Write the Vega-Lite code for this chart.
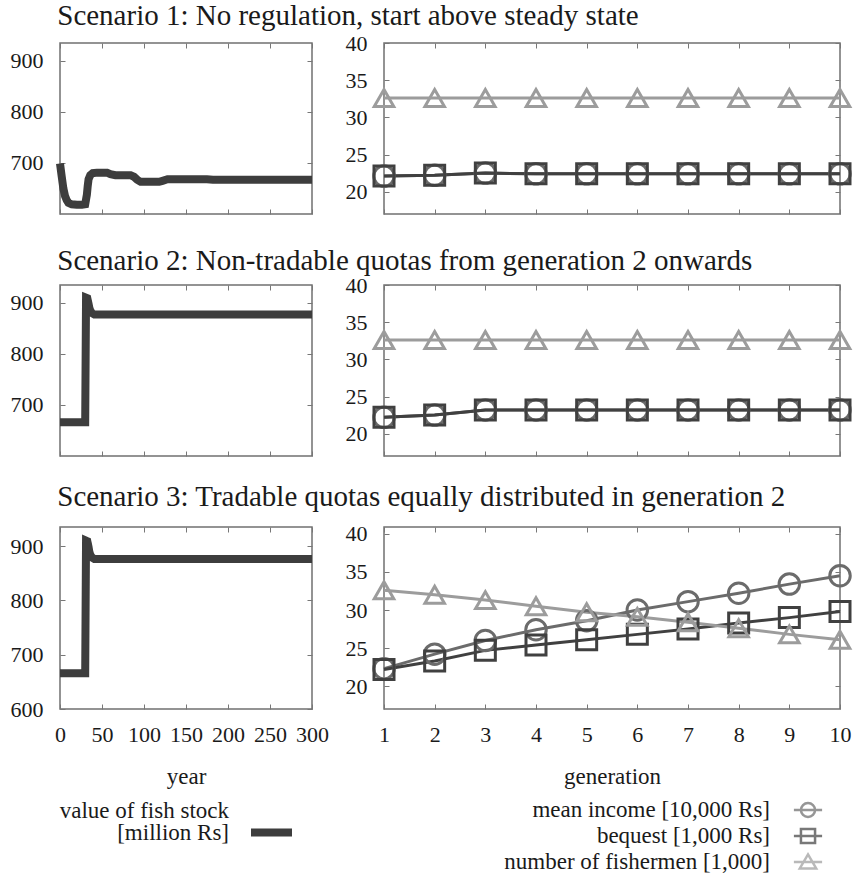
{
  "$schema": "https://vega.github.io/schema/vega-lite/v6.json",
  "padding": {"left": 9, "top": 2, "right": 0, "bottom": 0},
  "config": {
    "font": "Liberation Serif",
    "view": {"stroke": "#707070", "strokeWidth": 1.5},
    "axis": {
      "domain": false, "grid": false,
      "tickSize": -5, "tickColor": "#777777", "tickWidth": 1,
      "labelFont": "Liberation Serif", "labelFontSize": 22, "labelColor": "#1a1a1a",
      "labelFlush": false, "labelOverlap": false,
      "titleFont": "Liberation Serif", "titleFontSize": 23, "titleFontWeight": "normal", "titleColor": "#1a1a1a"
    },
    "axisX": {"labelPadding": 20},
    "axisY": {"labelPadding": 22},
    "legend": {"labelFont": "Liberation Serif", "labelFontSize": 23, "labelColor": "#1a1a1a", "labelLimit": 0, "padding": 0},
    "title": {"font": "Liberation Serif", "fontSize": 29, "fontWeight": "normal", "color": "#1a1a1a", "anchor": "start"}
  },
  "datasets": {
    "stock": [
      {"s":1,"year":0,"value":699},{"s":1,"year":2,"value":674},{"s":1,"year":4,"value":650},{"s":1,"year":6,"value":635},
      {"s":1,"year":8,"value":627},{"s":1,"year":10,"value":622},{"s":1,"year":14,"value":619},{"s":1,"year":20,"value":618},
      {"s":1,"year":26,"value":618},{"s":1,"year":30,"value":619},{"s":1,"year":32,"value":638},{"s":1,"year":33,"value":655},
      {"s":1,"year":34,"value":668},{"s":1,"year":36,"value":676},{"s":1,"year":39,"value":680},{"s":1,"year":44,"value":681},
      {"s":1,"year":56,"value":681},{"s":1,"year":60,"value":678},{"s":1,"year":66,"value":676},{"s":1,"year":84,"value":676},
      {"s":1,"year":88,"value":673},{"s":1,"year":92,"value":667},{"s":1,"year":96,"value":663},{"s":1,"year":118,"value":663},
      {"s":1,"year":122,"value":665},{"s":1,"year":128,"value":668},{"s":1,"year":175,"value":668},{"s":1,"year":182,"value":667},
      {"s":1,"year":300,"value":667},
      {"s":2,"year":0,"value":666},{"s":2,"year":30,"value":666},{"s":2,"year":31,"value":910},{"s":2,"year":32.5,"value":909},
      {"s":2,"year":34,"value":898},{"s":2,"year":35,"value":890},{"s":2,"year":36,"value":885},{"s":2,"year":38,"value":880},
      {"s":2,"year":41,"value":877},{"s":2,"year":50,"value":877},{"s":2,"year":300,"value":877},
      {"s":3,"year":0,"value":666},{"s":3,"year":30,"value":666},{"s":3,"year":31,"value":910},{"s":3,"year":32.5,"value":909},
      {"s":3,"year":34,"value":898},{"s":3,"year":35,"value":889},{"s":3,"year":36,"value":884},{"s":3,"year":38,"value":879},
      {"s":3,"year":41,"value":876},{"s":3,"year":50,"value":876},{"s":3,"year":300,"value":876}
    ],
    "gen": [
      {"s":1,"generation":1,"series":"mean income [10,000 Rs]","value":22.1},{"s":1,"generation":2,"series":"mean income [10,000 Rs]","value":22.2},
      {"s":1,"generation":3,"series":"mean income [10,000 Rs]","value":22.5},{"s":1,"generation":4,"series":"mean income [10,000 Rs]","value":22.4},
      {"s":1,"generation":5,"series":"mean income [10,000 Rs]","value":22.4},{"s":1,"generation":6,"series":"mean income [10,000 Rs]","value":22.4},
      {"s":1,"generation":7,"series":"mean income [10,000 Rs]","value":22.4},{"s":1,"generation":8,"series":"mean income [10,000 Rs]","value":22.4},
      {"s":1,"generation":9,"series":"mean income [10,000 Rs]","value":22.4},{"s":1,"generation":10,"series":"mean income [10,000 Rs]","value":22.4},
      {"s":1,"generation":1,"series":"bequest [1,000 Rs]","value":22.1},{"s":1,"generation":2,"series":"bequest [1,000 Rs]","value":22.2},
      {"s":1,"generation":3,"series":"bequest [1,000 Rs]","value":22.5},{"s":1,"generation":4,"series":"bequest [1,000 Rs]","value":22.4},
      {"s":1,"generation":5,"series":"bequest [1,000 Rs]","value":22.4},{"s":1,"generation":6,"series":"bequest [1,000 Rs]","value":22.4},
      {"s":1,"generation":7,"series":"bequest [1,000 Rs]","value":22.4},{"s":1,"generation":8,"series":"bequest [1,000 Rs]","value":22.4},
      {"s":1,"generation":9,"series":"bequest [1,000 Rs]","value":22.4},{"s":1,"generation":10,"series":"bequest [1,000 Rs]","value":22.4},
      {"s":1,"generation":1,"series":"number of fishermen [1,000]","value":32.6},{"s":1,"generation":2,"series":"number of fishermen [1,000]","value":32.6},
      {"s":1,"generation":3,"series":"number of fishermen [1,000]","value":32.6},{"s":1,"generation":4,"series":"number of fishermen [1,000]","value":32.6},
      {"s":1,"generation":5,"series":"number of fishermen [1,000]","value":32.6},{"s":1,"generation":6,"series":"number of fishermen [1,000]","value":32.6},
      {"s":1,"generation":7,"series":"number of fishermen [1,000]","value":32.6},{"s":1,"generation":8,"series":"number of fishermen [1,000]","value":32.6},
      {"s":1,"generation":9,"series":"number of fishermen [1,000]","value":32.6},{"s":1,"generation":10,"series":"number of fishermen [1,000]","value":32.6},
      {"s":2,"generation":1,"series":"mean income [10,000 Rs]","value":22.2},{"s":2,"generation":2,"series":"mean income [10,000 Rs]","value":22.5},
      {"s":2,"generation":3,"series":"mean income [10,000 Rs]","value":23.2},{"s":2,"generation":4,"series":"mean income [10,000 Rs]","value":23.2},
      {"s":2,"generation":5,"series":"mean income [10,000 Rs]","value":23.2},{"s":2,"generation":6,"series":"mean income [10,000 Rs]","value":23.2},
      {"s":2,"generation":7,"series":"mean income [10,000 Rs]","value":23.2},{"s":2,"generation":8,"series":"mean income [10,000 Rs]","value":23.2},
      {"s":2,"generation":9,"series":"mean income [10,000 Rs]","value":23.2},{"s":2,"generation":10,"series":"mean income [10,000 Rs]","value":23.2},
      {"s":2,"generation":1,"series":"bequest [1,000 Rs]","value":22.2},{"s":2,"generation":2,"series":"bequest [1,000 Rs]","value":22.5},
      {"s":2,"generation":3,"series":"bequest [1,000 Rs]","value":23.2},{"s":2,"generation":4,"series":"bequest [1,000 Rs]","value":23.2},
      {"s":2,"generation":5,"series":"bequest [1,000 Rs]","value":23.2},{"s":2,"generation":6,"series":"bequest [1,000 Rs]","value":23.2},
      {"s":2,"generation":7,"series":"bequest [1,000 Rs]","value":23.2},{"s":2,"generation":8,"series":"bequest [1,000 Rs]","value":23.2},
      {"s":2,"generation":9,"series":"bequest [1,000 Rs]","value":23.2},{"s":2,"generation":10,"series":"bequest [1,000 Rs]","value":23.2},
      {"s":2,"generation":1,"series":"number of fishermen [1,000]","value":32.6},{"s":2,"generation":2,"series":"number of fishermen [1,000]","value":32.6},
      {"s":2,"generation":3,"series":"number of fishermen [1,000]","value":32.6},{"s":2,"generation":4,"series":"number of fishermen [1,000]","value":32.6},
      {"s":2,"generation":5,"series":"number of fishermen [1,000]","value":32.6},{"s":2,"generation":6,"series":"number of fishermen [1,000]","value":32.6},
      {"s":2,"generation":7,"series":"number of fishermen [1,000]","value":32.6},{"s":2,"generation":8,"series":"number of fishermen [1,000]","value":32.6},
      {"s":2,"generation":9,"series":"number of fishermen [1,000]","value":32.6},{"s":2,"generation":10,"series":"number of fishermen [1,000]","value":32.6},
      {"s":3,"generation":1,"series":"mean income [10,000 Rs]","value":22.3},{"s":3,"generation":2,"series":"mean income [10,000 Rs]","value":24.2},
      {"s":3,"generation":3,"series":"mean income [10,000 Rs]","value":26.0},{"s":3,"generation":4,"series":"mean income [10,000 Rs]","value":27.4},
      {"s":3,"generation":5,"series":"mean income [10,000 Rs]","value":28.6},{"s":3,"generation":6,"series":"mean income [10,000 Rs]","value":30.0},
      {"s":3,"generation":7,"series":"mean income [10,000 Rs]","value":31.1},{"s":3,"generation":8,"series":"mean income [10,000 Rs]","value":32.2},
      {"s":3,"generation":9,"series":"mean income [10,000 Rs]","value":33.4},{"s":3,"generation":10,"series":"mean income [10,000 Rs]","value":34.5},
      {"s":3,"generation":1,"series":"bequest [1,000 Rs]","value":22.2},{"s":3,"generation":2,"series":"bequest [1,000 Rs]","value":23.3},
      {"s":3,"generation":3,"series":"bequest [1,000 Rs]","value":24.7},{"s":3,"generation":4,"series":"bequest [1,000 Rs]","value":25.4},
      {"s":3,"generation":5,"series":"bequest [1,000 Rs]","value":26.1},{"s":3,"generation":6,"series":"bequest [1,000 Rs]","value":26.8},
      {"s":3,"generation":7,"series":"bequest [1,000 Rs]","value":27.5},{"s":3,"generation":8,"series":"bequest [1,000 Rs]","value":28.3},
      {"s":3,"generation":9,"series":"bequest [1,000 Rs]","value":29.0},{"s":3,"generation":10,"series":"bequest [1,000 Rs]","value":29.8},
      {"s":3,"generation":1,"series":"number of fishermen [1,000]","value":32.6},{"s":3,"generation":2,"series":"number of fishermen [1,000]","value":32.0},
      {"s":3,"generation":3,"series":"number of fishermen [1,000]","value":31.3},{"s":3,"generation":4,"series":"number of fishermen [1,000]","value":30.5},
      {"s":3,"generation":5,"series":"number of fishermen [1,000]","value":29.7},{"s":3,"generation":6,"series":"number of fishermen [1,000]","value":29.1},
      {"s":3,"generation":7,"series":"number of fishermen [1,000]","value":28.4},{"s":3,"generation":8,"series":"number of fishermen [1,000]","value":27.6},
      {"s":3,"generation":9,"series":"number of fishermen [1,000]","value":26.8},{"s":3,"generation":10,"series":"number of fishermen [1,000]","value":26.1}
    ]
  },
  "spacing": 25,
  "resolve": {"scale": {"color": "independent", "shape": "independent", "size": "independent", "strokeDash": "independent"}, "legend": {"color": "independent", "shape": "independent", "size": "independent", "strokeDash": "independent"}},
  "vconcat": [
    {
      "title": {"text": "Scenario 1: No regulation, start above steady state", "dx": 48, "offset": 0},
      "spacing": 15,
      "resolve": {"scale": {"color": "independent", "shape": "independent", "size": "independent"}, "legend": {"color": "independent", "shape": "independent", "size": "independent"}},
      "hconcat": [
        {
          "width": 252, "height": 171,
          "data": {"name": "stock"},
          "transform": [{"filter": "datum.s == 1"}],
          "resolve": {"axis": {"x": "independent", "y": "independent"}},
          "layer": [
            {"mark": {"type": "line", "strokeWidth": 8, "color": "#3d3d3d"},
             "encoding": {
               "x": {"field": "year", "type": "quantitative", "scale": {"domain": [0, 300], "nice": false}, "axis": {"values": [0,50,100,150,200,250,300], "labels": false, "title": null}},
               "y": {"field": "value", "type": "quantitative", "scale": {"domain": [600, 935], "nice": false, "zero": false}, "axis": {"values": [700,800,900], "title": null}}
             }},
            {"mark": {"type": "point", "opacity": 0},
             "encoding": {
               "x": {"field": "year", "type": "quantitative", "axis": {"orient": "top", "values": [0,50,100,150,200,250,300], "labels": false, "title": null}},
               "y": {"field": "value", "type": "quantitative", "axis": {"orient": "right", "values": [700,800,900], "labels": false, "title": null}}
             }}
          ]
        },
        {
          "width": 456, "height": 171,
          "data": {"name": "gen"},
          "transform": [{"filter": "datum.s == 1"}],
          "resolve": {"axis": {"x": "independent", "y": "independent"}},
          "layer": [
            {"mark": {"type": "line", "strokeWidth": 3},
             "encoding": {
               "x": {"field": "generation", "type": "quantitative", "scale": {"domain": [1, 10], "nice": false}, "axis": {"values": [1,2,3,4,5,6,7,8,9,10], "labels": false, "title": null}},
               "y": {"field": "value", "type": "quantitative", "scale": {"domain": [17, 40], "nice": false, "zero": false}, "axis": {"values": [20,25,30,35,40], "title": null}},
               "color": {"field": "series", "type": "nominal", "scale": {"domain": ["mean income [10,000 Rs]", "bequest [1,000 Rs]", "number of fishermen [1,000]"], "range": ["#6b6b6b", "#404040", "#9c9c9c"]}, "legend": null}
             }},
            {"mark": {"type": "point", "filled": false, "strokeWidth": 3, "opacity": 1},
             "encoding": {
               "x": {"field": "generation", "type": "quantitative", "axis": null},
               "y": {"field": "value", "type": "quantitative", "axis": null},
               "color": {"field": "series", "type": "nominal", "scale": {"domain": ["mean income [10,000 Rs]", "bequest [1,000 Rs]", "number of fishermen [1,000]"], "range": ["#6b6b6b", "#404040", "#9c9c9c"]}, "legend": null},
               "shape": {"field": "series", "type": "nominal", "scale": {"domain": ["mean income [10,000 Rs]", "bequest [1,000 Rs]", "number of fishermen [1,000]"], "range": ["circle", "square", "triangle-up"]}, "legend": null},
               "size": {"field": "series", "type": "nominal", "scale": {"domain": ["mean income [10,000 Rs]", "bequest [1,000 Rs]", "number of fishermen [1,000]"], "range": [420, 380, 520]}, "legend": null}
             }},
            {"mark": {"type": "point", "opacity": 0},
             "encoding": {
               "x": {"field": "generation", "type": "quantitative", "axis": {"orient": "top", "values": [1,2,3,4,5,6,7,8,9,10], "labels": false, "title": null}},
               "y": {"field": "value", "type": "quantitative", "axis": {"orient": "right", "values": [20,25,30,35,40], "labels": false, "title": null}}
             }}
          ]
        }
      ]
    },
    {
      "title": {"text": "Scenario 2: Non-tradable quotas from generation 2 onwards", "dx": 48, "offset": -3},
      "spacing": 15,
      "resolve": {"scale": {"color": "independent", "shape": "independent", "size": "independent"}, "legend": {"color": "independent", "shape": "independent", "size": "independent"}},
      "hconcat": [
        {
          "width": 252, "height": 171,
          "data": {"name": "stock"},
          "transform": [{"filter": "datum.s == 2"}],
          "resolve": {"axis": {"x": "independent", "y": "independent"}},
          "layer": [
            {"mark": {"type": "line", "strokeWidth": 8, "color": "#3d3d3d"},
             "encoding": {
               "x": {"field": "year", "type": "quantitative", "scale": {"domain": [0, 300], "nice": false}, "axis": {"values": [0,50,100,150,200,250,300], "labels": false, "title": null}},
               "y": {"field": "value", "type": "quantitative", "scale": {"domain": [600, 935], "nice": false, "zero": false}, "axis": {"values": [700,800,900], "title": null}}
             }},
            {"mark": {"type": "point", "opacity": 0},
             "encoding": {
               "x": {"field": "year", "type": "quantitative", "axis": {"orient": "top", "values": [0,50,100,150,200,250,300], "labels": false, "title": null}},
               "y": {"field": "value", "type": "quantitative", "axis": {"orient": "right", "values": [700,800,900], "labels": false, "title": null}}
             }}
          ]
        },
        {
          "width": 456, "height": 171,
          "data": {"name": "gen"},
          "transform": [{"filter": "datum.s == 2"}],
          "resolve": {"axis": {"x": "independent", "y": "independent"}},
          "layer": [
            {"mark": {"type": "line", "strokeWidth": 3},
             "encoding": {
               "x": {"field": "generation", "type": "quantitative", "scale": {"domain": [1, 10], "nice": false}, "axis": {"values": [1,2,3,4,5,6,7,8,9,10], "labels": false, "title": null}},
               "y": {"field": "value", "type": "quantitative", "scale": {"domain": [17, 40], "nice": false, "zero": false}, "axis": {"values": [20,25,30,35,40], "title": null}},
               "color": {"field": "series", "type": "nominal", "scale": {"domain": ["mean income [10,000 Rs]", "bequest [1,000 Rs]", "number of fishermen [1,000]"], "range": ["#6b6b6b", "#404040", "#9c9c9c"]}, "legend": null}
             }},
            {"mark": {"type": "point", "filled": false, "strokeWidth": 3, "opacity": 1},
             "encoding": {
               "x": {"field": "generation", "type": "quantitative", "axis": null},
               "y": {"field": "value", "type": "quantitative", "axis": null},
               "color": {"field": "series", "type": "nominal", "scale": {"domain": ["mean income [10,000 Rs]", "bequest [1,000 Rs]", "number of fishermen [1,000]"], "range": ["#6b6b6b", "#404040", "#9c9c9c"]}, "legend": null},
               "shape": {"field": "series", "type": "nominal", "scale": {"domain": ["mean income [10,000 Rs]", "bequest [1,000 Rs]", "number of fishermen [1,000]"], "range": ["circle", "square", "triangle-up"]}, "legend": null},
               "size": {"field": "series", "type": "nominal", "scale": {"domain": ["mean income [10,000 Rs]", "bequest [1,000 Rs]", "number of fishermen [1,000]"], "range": [420, 380, 520]}, "legend": null}
             }},
            {"mark": {"type": "point", "opacity": 0},
             "encoding": {
               "x": {"field": "generation", "type": "quantitative", "axis": {"orient": "top", "values": [1,2,3,4,5,6,7,8,9,10], "labels": false, "title": null}},
               "y": {"field": "value", "type": "quantitative", "axis": {"orient": "right", "values": [20,25,30,35,40], "labels": false, "title": null}}
             }}
          ]
        }
      ]
    },
    {
      "title": {"text": "Scenario 3: Tradable quotas equally distributed in generation 2", "dx": 48, "offset": 10},
      "spacing": 14,
      "resolve": {"scale": {"color": "independent", "shape": "independent", "size": "independent", "strokeDash": "independent"}, "legend": {"color": "independent", "shape": "independent", "size": "independent", "strokeDash": "independent"}},
      "hconcat": [
        {
          "width": 252, "height": 182,
          "data": {"name": "stock"},
          "transform": [{"filter": "datum.s == 3"}],
          "resolve": {"axis": {"x": "independent", "y": "independent"}},
          "layer": [
            {"mark": {"type": "line", "strokeWidth": 8},
             "encoding": {
               "x": {"field": "year", "type": "quantitative", "scale": {"domain": [0, 300], "nice": false}, "axis": {"values": [0,50,100,150,200,250,300], "title": "year", "titlePadding": 20}},
               "y": {"field": "value", "type": "quantitative", "scale": {"domain": [600, 935], "nice": false, "zero": false}, "axis": {"values": [600,700,800,900], "title": null}},
               "color": {"datum": "[million Rs]", "scale": {"range": ["#3d3d3d"]},
                 "legend": {"title": null, "orient": "none", "legendX": 187, "legendY": 281, "symbolType": "stroke", "symbolSize": 1681, "symbolStrokeWidth": 8,
                   "labelAlign": "right", "labelOffset": -67}},
               "strokeDash": {"datum": "value of fish stock", "scale": {"range": [[1, 0]]},
                 "legend": {"title": null, "orient": "none", "legendX": 187, "legendY": 259, "symbolType": "stroke", "symbolSize": 1681, "symbolStrokeWidth": 8, "symbolOpacity": 0,
                   "labelAlign": "right", "labelOffset": -67}}
             }},
            {"mark": {"type": "point", "opacity": 0},
             "encoding": {
               "x": {"field": "year", "type": "quantitative", "axis": {"orient": "top", "values": [0,50,100,150,200,250,300], "labels": false, "title": null}},
               "y": {"field": "value", "type": "quantitative", "axis": {"orient": "right", "values": [600,700,800,900], "labels": false, "title": null}}
             }}
          ]
        },
        {
          "width": 456, "height": 182,
          "data": {"name": "gen"},
          "transform": [{"filter": "datum.s == 3"}],
          "resolve": {"axis": {"x": "independent", "y": "independent"}, "scale": {"color": "independent", "shape": "independent"}},
          "layer": [
            {"mark": {"type": "line", "strokeWidth": 3},
             "encoding": {
               "x": {"field": "generation", "type": "quantitative", "scale": {"domain": [1, 10], "nice": false}, "axis": {"values": [1,2,3,4,5,6,7,8,9,10], "title": "generation", "titlePadding": 20}},
               "y": {"field": "value", "type": "quantitative", "scale": {"domain": [17, 40.9], "nice": false, "zero": false}, "axis": {"values": [20,25,30,35,40], "title": null}},
               "color": {"field": "series", "type": "nominal", "scale": {"domain": ["mean income [10,000 Rs]", "bequest [1,000 Rs]", "number of fishermen [1,000]"], "range": ["#6b6b6b", "#404040", "#9c9c9c"]}, "legend": null}
             }},
            {"mark": {"type": "point", "filled": false, "strokeWidth": 3, "opacity": 1},
             "encoding": {
               "x": {"field": "generation", "type": "quantitative", "axis": null},
               "y": {"field": "value", "type": "quantitative", "axis": null},
               "color": {"field": "series", "type": "nominal", "scale": {"domain": ["mean income [10,000 Rs]", "bequest [1,000 Rs]", "number of fishermen [1,000]"], "range": ["#6b6b6b", "#404040", "#9c9c9c"]}, "legend": null},
               "shape": {"field": "series", "type": "nominal", "scale": {"domain": ["mean income [10,000 Rs]", "bequest [1,000 Rs]", "number of fishermen [1,000]"], "range": ["circle", "square", "triangle-up"]}, "legend": null},
               "size": {"field": "series", "type": "nominal", "scale": {"domain": ["mean income [10,000 Rs]", "bequest [1,000 Rs]", "number of fishermen [1,000]"], "range": [420, 380, 520]}, "legend": null}
             }},
            {"mark": {"type": "point", "opacity": 0},
             "encoding": {
               "x": {"field": "generation", "type": "quantitative", "axis": {"orient": "top", "values": [1,2,3,4,5,6,7,8,9,10], "labels": false, "title": null}},
               "y": {"field": "value", "type": "quantitative", "axis": {"orient": "right", "values": [20,25,30,35,40], "labels": false, "title": null}}
             }},
            {"transform": [{"filter": "datum.s == 0"}],
             "mark": {"type": "point", "filled": false, "strokeWidth": 2.5},
             "encoding": {
               "color": {"field": "series", "type": "nominal", "scale": {"domain": ["mean income [10,000 Rs]", "bequest [1,000 Rs]", "number of fishermen [1,000]"], "range": ["#6b6b6b", "#404040", "#9c9c9c"]},
                 "legend": {"title": null, "orient": "none", "legendX": 411, "legendY": 270, "symbolSize": 552, "symbolStrokeWidth": 2.5,
                   "labelAlign": "right", "labelOffset": -51, "rowPadding": 0}},
               "shape": {"field": "series", "type": "nominal", "scale": {"domain": ["mean income [10,000 Rs]", "bequest [1,000 Rs]", "number of fishermen [1,000]"],
                 "range": ["M-1.2,0H1.2M-0.6,0A0.6,0.6,0,1,1,0.6,0A0.6,0.6,0,1,1,-0.6,0Z", "M-1.2,0H1.2M-0.6,-0.6H0.6V0.6H-0.6Z", "M-1.2,0H1.2M0,-0.65L0.7,0.55H-0.7Z"]},
                 "legend": {"title": null, "orient": "none", "legendX": 411, "legendY": 270, "symbolSize": 552, "symbolStrokeWidth": 2.5,
                   "labelAlign": "right", "labelOffset": -51, "rowPadding": 0}}
             }}
          ]
        }
      ]
    }
  ]
}
